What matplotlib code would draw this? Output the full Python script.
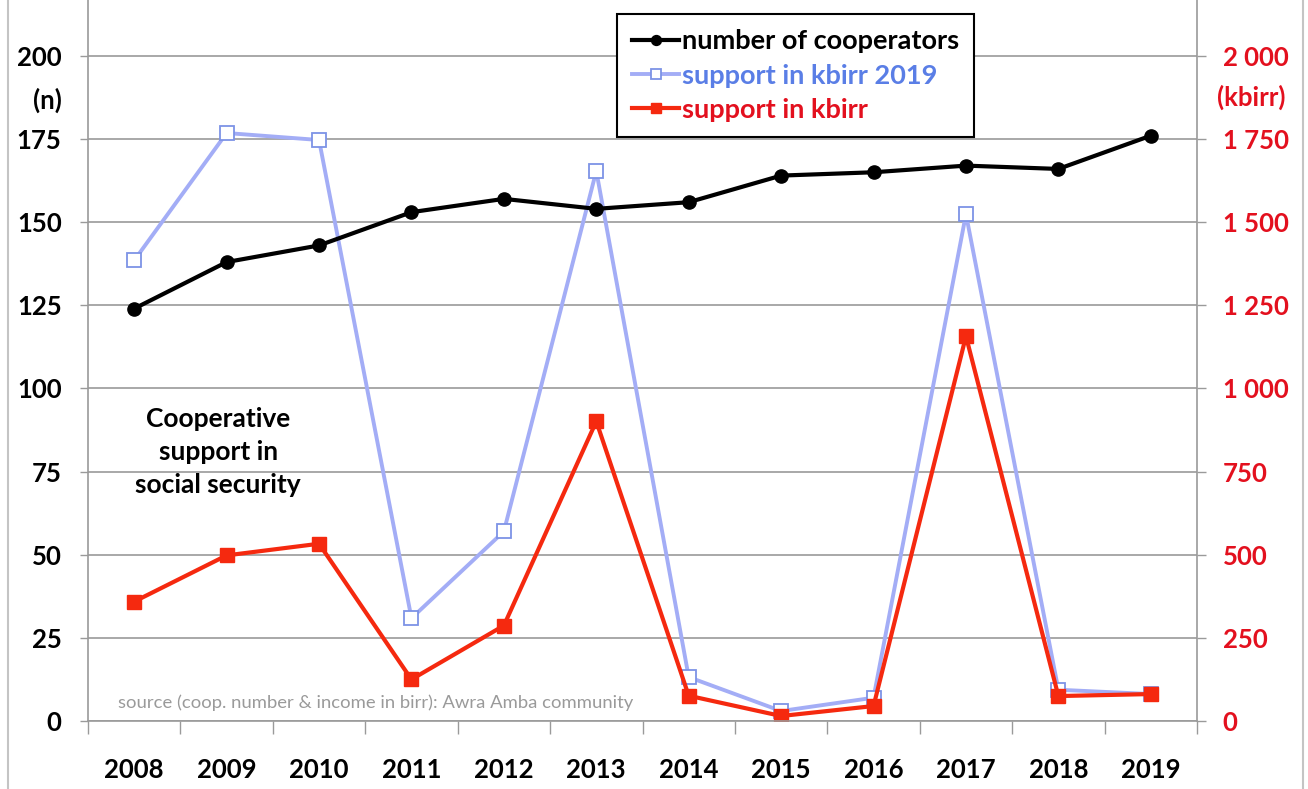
import matplotlib
matplotlib.use("Agg")
import matplotlib.pyplot as plt
from matplotlib.lines import Line2D
import numpy as np

# ---- data ----
years = ["2008", "2009", "2010", "2011", "2012", "2013",
         "2014", "2015", "2016", "2017", "2018", "2019"]
cooperators = [124, 138, 143, 153, 157, 154, 156, 164, 165, 167, 166, 176]
support_2019 = [1385, 1768, 1747, 309, 570, 1654, 132, 30, 70, 1524, 94, 81]
support = [359, 498, 533, 125, 287, 901, 76, 15, 45, 1157, 75, 81]
left_ticks = [0, 25, 50, 75, 100, 125, 150, 175, 200]
right_ticks = [0, 250, 500, 750, 1000, 1250, 1500, 1750, 2000]
right_tick_labels = ["0", "250", "500", "750", "1 000", "1 250", "1 500", "1 750", "2 000"]

plt.rcParams['font.family'] = ['Lato', 'DejaVu Sans']
plt.rcParams['font.weight'] = 'bold'

W, H = 1308, 789
fig = plt.figure(figsize=(W / 100, H / 100), dpi=100)
fig.patch.set_facecolor('white')


def px(x0, y0, x1, y1):
    return [x0 / W, 1 - y1 / H, (x1 - x0) / W, (y1 - y0) / H]


GRAY = '#9a9a9a'
RED_TXT = '#e3101e'
BLUE_TXT = '#5a7ee6'
FS = 18.5

ax = fig.add_axes(px(88, 0, 1197, 721))
ax2 = ax.twinx()
ax.set_zorder(2)
ax.patch.set_visible(False)
ax2.set_zorder(1)

x = np.arange(len(years))

ax.set_xlim(-0.5, len(years) - 0.5)
ax.set_ylim(0, 216.8)
ax2.set_ylim(0, 2168)

# right axis lines (drawn below the black series)
l_blue, = ax2.plot(x, support_2019, color='#a3adf6', lw=2.8, marker='s', ms=10,
                   mfc='white', mec='#7d93e6', mew=1.3, zorder=3,
                   label='support in kbirr 2019')
l_red, = ax2.plot(x, support, color='#f5290f', lw=3.0, marker='s', ms=9.5,
                  mfc='#f5290f', mec='#f5290f', zorder=4,
                  label='support in kbirr')
l_black, = ax.plot(x, cooperators, color='black', lw=3.0, marker='o', ms=9.5,
                   zorder=5, label='number of cooperators')

# grid on ax2 (below its lines)
ax2.set_yticks(right_ticks)
ax2.set_yticklabels(right_tick_labels)
ax2.set_axisbelow(True)
ax2.yaxis.grid(True, color=GRAY, lw=1.2)
ax2.tick_params(axis='y', direction='out', length=6.5, width=1, color=GRAY,
                pad=12, labelsize=FS, labelcolor=RED_TXT)
for lbl in ax2.get_yticklabels():
    lbl.set_horizontalalignment('left')

ax.set_yticks(left_ticks)
ax.tick_params(axis='y', direction='out', length=6, width=1, color=GRAY,
               pad=13, labelsize=FS, labelcolor='black')

ax.set_xticks(x)
ax.set_xticklabels(years)
ax.set_xticks(np.arange(-0.5, len(years), 1), minor=True)
ax.tick_params(axis='x', which='major', length=0, pad=27, labelsize=FS)
ax.tick_params(axis='x', which='minor', length=9, width=1, color=GRAY,
               direction='out')

for a in (ax, ax2):
    a.spines['top'].set_visible(False)
    for s in ('left', 'right', 'bottom'):
        a.spines[s].set_color(GRAY)
        a.spines[s].set_linewidth(1.2)
ax.spines['right'].set_visible(False)
ax2.spines['left'].set_visible(False)
ax2.spines['bottom'].set_visible(False)

# legend
leg = ax.legend(handles=[l_black, l_blue, l_red], loc='upper left',
                bbox_to_anchor=(0.477, 0.980), frameon=True, fancybox=False,
                edgecolor='black', framealpha=1, fontsize=19.5,
                handlelength=1.75, handletextpad=0.1, labelspacing=0.38,
                borderpad=0.55, borderaxespad=0, markerscale=0.75)
leg.get_frame().set_linewidth(1.5)
for t, c in zip(leg.get_texts(), ['black', BLUE_TXT, RED_TXT]):
    t.set_color(c)

# extra texts
fig.text(62 / W, 1 - 100 / H, "(n)", ha='right', va='center', fontsize=FS,
         color='black')
fig.text(1217 / W, 1 - 97 / H, "(kbirr)", ha='left', va='center', fontsize=FS,
         color=RED_TXT)
ax.text(0.91, 81.0, "Cooperative\nsupport in\nsocial security", ha='center',
        va='center', fontsize=19, linespacing=1.45, color='black')
ax.text(-0.17, 5.4, "source (coop. number & income in birr): Awra Amba community",
        ha='left', va='center', fontsize=13.3, color=GRAY, fontweight='normal')

# outer frame lines
for xf in (8, 1303):
    fig.add_artist(Line2D([xf / W, xf / W], [0, 1], transform=fig.transFigure,
                          color='#c4c4c4', lw=1.5))

fig.savefig('out.png', dpi=100)
